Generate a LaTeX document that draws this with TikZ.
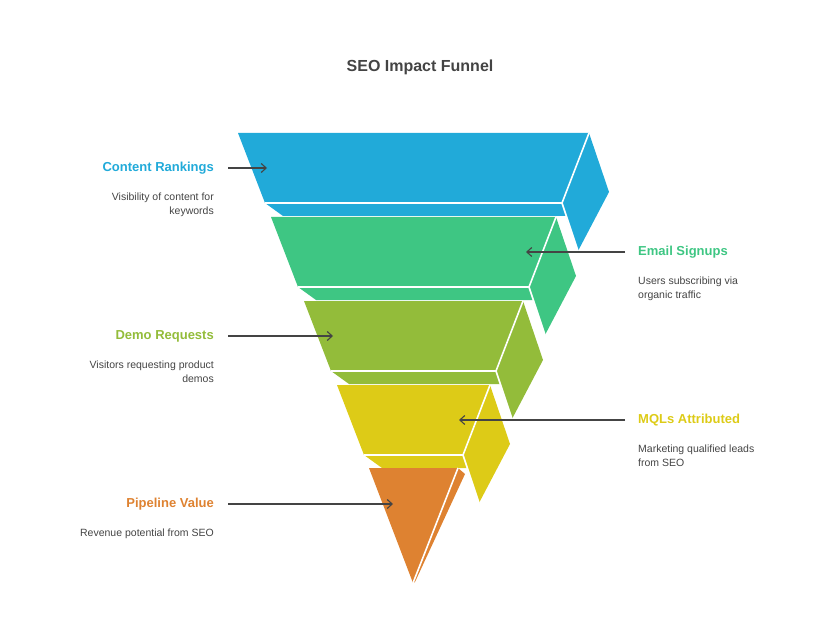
\documentclass[tikz,border=0pt]{standalone}
\usepackage{fontspec}
\setmainfont{Liberation Sans}
\usetikzlibrary{arrows.meta}
\definecolor{cblue}{HTML}{21AAD9}
\definecolor{cgreen}{HTML}{3EC683}
\definecolor{colive}{HTML}{93BC3A}
\definecolor{cyellow}{HTML}{DDCB17}
\definecolor{corange}{HTML}{DE8231}
\definecolor{ctext}{HTML}{444444}
\tikzset{
  head/.style={font=\bfseries\fontsize{13}{15}\selectfont, inner sep=0pt},
  descl/.style={font=\fontsize{10.5}{13.5}\selectfont, text=ctext, align=right, anchor=north east, inner sep=0pt},
  descr/.style={font=\fontsize{10.5}{13.5}\selectfont, text=ctext, align=left, anchor=north west, inner sep=0pt},
  pointer/.style={-{Straight Barb[length=5pt,width=9pt]}, draw=ctext, line width=1.1pt},
  edge/.style={draw=white, line width=1.6pt},
}
% one funnel layer: colour, left x, right x, top y
\newcommand{\funnellayer}[4]{
  \fill[#1] (#2,#4) -- (#3,#4) -- ({#3+20},{#4+59}) -- ({#3-11},{#4+118})
    -- ({#3-23},{#4+83}) -- ({#2+45},{#4+83}) -- ({#2+27},{#4+70}) -- cycle;
  \draw[edge] ({#2+27},{#4+70}) -- ({#3-27},{#4+70}) -- (#3,#4);
  \draw[edge] ({#3-27},{#4+70}) -- ({#3-11},{#4+118});
}
\begin{document}
\begin{tikzpicture}[x=1pt,y=-1pt]
  \useasboundingbox (0,0) rectangle (840,636);
  \node[font=\bfseries\fontsize{16}{19}\selectfont, text=ctext] (title) at (420,67) {SEO Impact Funnel};

  % funnel
  \funnellayer{cblue}{238}{589}{133}
  \funnellayer{cgreen}{271}{556}{217}
  \funnellayer{colive}{304}{523}{301}
  \funnellayer{cyellow}{337}{490}{385}
  \fill[corange] (369,468) -- (458,468) -- (465,474) -- (415,582) -- (413,583) -- cycle;
  \draw[edge] (458,468) -- (413,583);

  % left labels
  \node[head, text=cblue, anchor=east] (rank) at (214,168) {Content Rankings};
  \node[descl] (rankd) at (214,193) {Visibility of content for\\keywords};
  \node[head, text=colive, anchor=east] (demo) at (214,336) {Demo Requests};
  \node[descl] (demod) at (214,361) {Visitors requesting product\\demos};
  \node[head, text=corange, anchor=east] (pipe) at (214,504) {Pipeline Value};
  \node[descl] (piped) at (214,529) {Revenue potential from SEO};

  % right labels
  \node[head, text=cgreen, anchor=west] (mail) at (638,252) {Email Signups};
  \node[descr] (maild) at (638,277) {Users subscribing via\\organic traffic};
  \node[head, text=cyellow, anchor=west] (mql) at (638,420) {MQLs Attributed};
  \node[descr] (mqld) at (638,445) {Marketing qualified leads\\from SEO};

  % pointers
  \coordinate (rankp) at (267,168);
  \coordinate (mailp) at (526,252);
  \coordinate (demop) at (333,336);
  \coordinate (mqlp) at (459,420);
  \coordinate (pipep) at (393,504);
  \draw[pointer] (228,168) -- (rankp);
  \draw[pointer] (625,252) -- (mailp);
  \draw[pointer] (228,336) -- (demop);
  \draw[pointer] (625,420) -- (mqlp);
  \draw[pointer] (228,504) -- (pipep);
\end{tikzpicture}
\end{document}
